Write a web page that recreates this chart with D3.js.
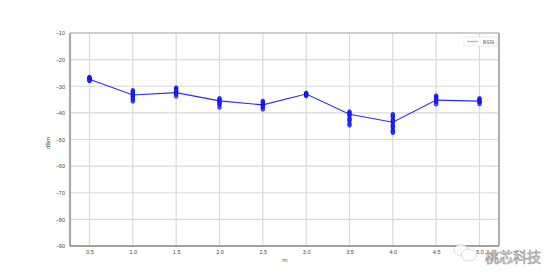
<!DOCTYPE html>
<html>
<head>
<meta charset="utf-8">
<script src="https://cdn.jsdelivr.net/npm/d3@7"></script>
<style>
  body { margin: 0; background: #fff; }
  svg { display: block; font-family: "DejaVu Sans", sans-serif; }
</style>
</head>
<body>
<svg id="chart" width="554" height="276"></svg>
<script>
// distance (m) for each measurement group
const distances = [0.5, 1.0, 1.5, 2.0, 2.5, 3.0, 3.5, 4.0, 4.5, 5.0];
// individual RSSI readings per distance
const rssiSamples = [
  [-27, -26.5, -27.5, -28, -27, -26.8, -27.8],
  [-31.5, -32, -33, -34, -35, -35.7, -33.5, -32.5, -34.5],
  [-30.5, -31, -32, -33, -33.8, -32.5, -31.5],
  [-34.5, -35, -36, -37, -38, -35.5, -36.5],
  [-35.5, -36, -37, -38, -38.7, -36.5, -37.5],
  [-32.5, -33, -33.7, -32.8, -33.3],
  [-39.5, -40, -41, -42, -43, -44, -44.7, -40.5, -42.5],
  [-40.5, -41.5, -42.5, -43.5, -44.5, -45.5, -46.5, -47.5, -41, -43, -45, -47],
  [-33.5, -34, -35, -36, -36.8, -34.5, -35.5],
  [-34.5, -35, -35.5, -36, -36.7, -35.8]
];
// line through each group
const rssiMean = [-27.4, -33.3, -32.4, -35.5, -37, -32.9, -40.5, -43.5, -35.2, -35.6];
const xTicks = [0.5, 1.0, 1.5, 2.0, 2.5, 3.0, 3.5, 4.0, 4.5, 5.0];
const yTicks = [-90, -80, -70, -60, -50, -40, -30, -20, -10];

const svg = d3.select("#chart");
const pl = 70, pr = 499, pt = 33, pb = 246;

const x = d3.scaleLinear().domain([0.275, 5.225]).range([pl, pr]);
const y = d3.scaleLinear().domain([-90, -10]).range([pb, pt]);

// grid
svg.append("g").selectAll("line")
  .data(xTicks).enter().append("line")
  .attr("x1", d => x(d)).attr("x2", d => x(d))
  .attr("y1", pt).attr("y2", pb)
  .attr("stroke", "#d9d9d9").attr("stroke-width", 1.2);
svg.append("g").selectAll("line")
  .data(yTicks).enter().append("line")
  .attr("x1", pl).attr("x2", pr)
  .attr("y1", d => y(d)).attr("y2", d => y(d))
  .attr("stroke", "#d9d9d9").attr("stroke-width", 1.2);

// axes
const xAxis = svg.append("g")
  .attr("transform", `translate(0,${pb})`)
  .call(d3.axisBottom(x).tickValues(xTicks).tickFormat(d3.format(".1f")).tickSize(0).tickPadding(4));
const yAxis = svg.append("g")
  .attr("transform", `translate(${pl},0)`)
  .call(d3.axisLeft(y).tickValues(yTicks).tickFormat(d => "\u2212" + Math.abs(d)).tickSize(0).tickPadding(5));
[xAxis, yAxis].forEach(a => {
  a.select(".domain").remove();
  a.selectAll("text").attr("font-size", 5.5).attr("fill", "#444");
});

// spines
svg.append("line").attr("x1", pl).attr("x2", pr).attr("y1", pt).attr("y2", pt)
  .attr("stroke", "#b0b0b0").attr("stroke-width", 1.2);
svg.append("line").attr("x1", pl).attr("x2", pl).attr("y1", pt).attr("y2", pb)
  .attr("stroke", "#a8a8a8").attr("stroke-width", 2.2);
svg.append("line").attr("x1", pr).attr("x2", pr).attr("y1", pt).attr("y2", pb)
  .attr("stroke", "#b0b0b0").attr("stroke-width", 2);
svg.append("line").attr("x1", pl).attr("x2", pr).attr("y1", pb).attr("y2", pb)
  .attr("stroke", "#555").attr("stroke-width", 1);

// mean line
const line = d3.line().x((d, i) => x(distances[i])).y(d => y(d));
svg.append("path").datum(rssiMean)
  .attr("d", line).attr("fill", "none")
  .attr("stroke", "#2a2aff").attr("stroke-width", 1.1);

// samples
const pts = [];
rssiSamples.forEach((arr, i) => arr.forEach(v => pts.push({ d: distances[i], v })));
svg.append("g").selectAll("circle")
  .data(pts).enter().append("circle")
  .attr("cx", d => x(d.d)).attr("cy", d => y(d.v))
  .attr("r", 1.8)
  .attr("fill", "#2a2aff").attr("fill-opacity", 0.7)
  .attr("stroke", "#0000e6").attr("stroke-width", 0.7);

// axis labels
svg.append("text").attr("x", 285).attr("y", 262)
  .attr("text-anchor", "middle").attr("font-size", 5.5).attr("fill", "#444").text("m");
svg.append("text").attr("transform", "translate(50,143) rotate(-90)")
  .attr("text-anchor", "middle").attr("font-size", 5.5).attr("fill", "#444").text("dBm");

// legend
const lg = svg.append("g");
lg.append("rect").attr("x", 464).attr("y", 37).attr("width", 33).attr("height", 9)
  .attr("fill", "#fff").attr("stroke", "#e2e2e2").attr("stroke-width", 0.7);
lg.append("line").attr("x1", 467).attr("x2", 478).attr("y1", 41.5).attr("y2", 41.5)
  .attr("stroke", "#a8a8ff").attr("stroke-width", 1.3);
lg.append("text").attr("x", 483).attr("y", 43.5).attr("font-size", 5).attr("fill", "#444").text("RSSI");

// watermark
const wm = svg.append("g");
wm.append("ellipse").attr("cx", 461).attr("cy", 250).attr("rx", 7).attr("ry", 5.5)
  .attr("fill", "#fff").attr("fill-opacity", 0.8).attr("stroke", "#bbb").attr("stroke-width", 0.8)
  .attr("stroke-dasharray", "2,1");
wm.append("ellipse").attr("cx", 469).attr("cy", 255).attr("rx", 7.5).attr("ry", 6)
  .attr("fill", "#fff").attr("fill-opacity", 0.8).attr("stroke", "#bbb").attr("stroke-width", 0.8)
  .attr("stroke-dasharray", "2,1");
wm.append("text").attr("x", 485).attr("y", 262)
  .attr("font-family", "Noto Sans CJK SC").attr("font-size", 14)
  .attr("fill", "#fff").attr("stroke", "#999").attr("stroke-width", 0.7)
  .text("桃芯科技");
</script>
</body>
</html>
